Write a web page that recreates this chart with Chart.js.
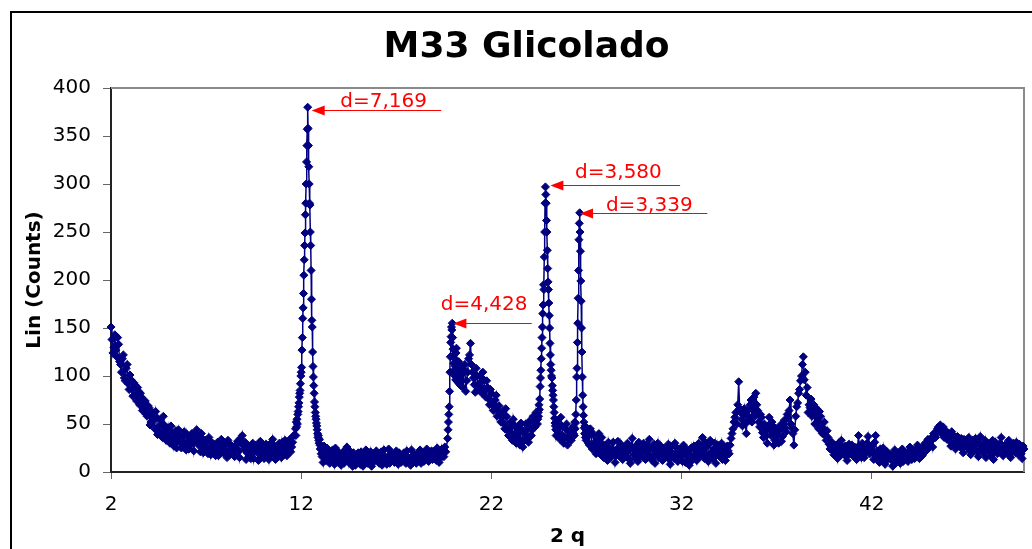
<!DOCTYPE html>
<html>
<head>
<meta charset="utf-8">
<title>M33 Glicolado</title>
<script src="https://cdn.jsdelivr.net/npm/chart.js@4.4.1/dist/chart.umd.min.js"></script>
<style>
  html, body { margin: 0; padding: 0; background: #fff; }
  #wrap { width: 1032px; height: 549px; }
</style>
</head>
<body>
<div id="wrap"><canvas id="xrd" width="1032" height="549"></canvas></div>
<script>
// Diffractogram counts, split into scan segments (2θ start, step)
// 2.0 – 11.6, step 0.1
const countsLow = [
  151, 124, 143, 120, 133, 112, 118, 98, 108, 92,
  101, 86, 93, 80, 88, 70, 78, 66, 74, 58,
  67, 52, 62, 45, 57, 42, 54, 36, 49, 33,
  46, 30, 41, 27, 43, 32, 38, 25, 37, 28,
  39, 24, 35, 30, 33, 44, 28, 21, 35, 26,
  31, 19, 32, 24, 29, 17, 31, 22, 34, 20,
  28, 15, 30, 23, 26, 16, 29, 21, 35, 38,
  24, 13, 27, 19, 26, 14, 28, 20, 25, 15,
  27, 18, 24, 13, 30, 34, 22, 16, 28, 20,
  31, 19, 27, 22, 34, 26, 38
];
// 2.05 – 11.55, step 0.1
const countsLowHalf = [
  138, 130, 127, 140, 115, 104, 122, 95, 112, 86,
  96, 79, 91, 74, 84, 82, 64, 72, 60, 69,
  49, 60, 55, 63, 39, 48, 40, 58, 43, 38,
  36, 48, 34, 38, 25, 44, 31, 30, 42, 23,
  32, 28, 40, 22, 37, 36, 31, 40, 20, 33,
  25, 36, 18, 30, 22, 27, 17, 29, 26, 31,
  22, 33, 18, 27, 20, 25, 32, 15, 30, 28,
  31, 20, 24, 14, 30, 21, 24, 12, 32, 22,
  14, 29, 20, 25, 18, 28, 13, 25, 30, 15,
  25, 33, 17, 30, 21, 31
];
// 11.70 – 12.98, step 0.02 (d=7,169)
const peak7169 = [
  45, 38, 52, 47, 55, 50, 60, 63, 68, 72,
  78, 82, 85, 92, 100, 104, 109, 127, 140, 160,
  171, 186, 205, 221, 236, 249, 268, 280, 300, 323,
  340, 357, 380, 358, 340, 318, 300, 280, 278, 250,
  236, 210, 180, 158, 151, 125, 110, 99, 90, 82,
  73, 68, 62, 58, 55, 51, 48, 44, 40, 36,
  38, 33, 30, 34, 28
];
// 13.0 – 19.6, step 0.1
const countsMid = [
  24, 16, 27, 12, 22, 9, 20, 14, 25, 11,
  19, 7, 21, 13, 26, 10, 18, 6, 16, 12,
  20, 8, 17, 11, 23, 9, 15, 6, 19, 12,
  17, 9, 21, 13, 16, 8, 24, 12, 18, 10,
  22, 8, 17, 13, 20, 9, 16, 11, 23, 10,
  18, 12, 21, 9, 19, 14, 24, 11, 17, 13,
  22, 12, 19, 14, 24, 16, 21
];
// 13.05 – 19.55, step 0.1
const countsMidHalf = [
  19, 10, 17, 25, 15, 14, 23, 8, 18, 21,
  13, 16, 9, 20, 17, 22, 11, 20, 7, 18,
  13, 21, 6, 15, 18, 12, 21, 10, 14, 22,
  11, 19, 7, 23, 14, 16, 9, 20, 14, 19,
  14, 20, 10, 16, 13, 22, 13, 7, 17, 15,
  9, 16, 23, 14, 11, 20, 16, 13, 22, 17,
  15, 25, 10, 18, 20, 26
];
// 19.70 – 20.38, step 0.02 (d=4,428)
const peak4428 = [
  35, 44, 52, 60, 68, 84, 104, 120, 135, 141,
  151, 148, 155, 140, 128, 121, 113, 106, 118, 100,
  110, 96, 124, 129, 103, 112, 94, 108, 98, 115,
  92, 105, 99, 111, 90
];
// 20.4 – 24.3, step 0.1
const countsBand = [
  101, 88, 112, 95, 118, 134, 104, 91, 108, 86,
  100, 82, 96, 78, 88, 70, 82, 64, 75, 58,
  69, 52, 63, 45, 58, 38, 52, 33, 49, 30,
  46, 28, 44, 32, 50, 35, 53, 38, 58, 47
];
// 20.45 – 24.35, step 0.1
const countsBandHalf = [
  95, 107, 84, 104, 122, 112, 98, 83, 100, 92,
  89, 104, 85, 95, 76, 86, 72, 68, 80, 63,
  60, 57, 50, 66, 43, 46, 40, 55, 36, 42,
  35, 51, 26, 40, 44, 31, 47, 44, 52, 62
];
// 24.40 – 25.38, step 0.02 (d=3,580)
const peak3580 = [
  55, 50, 55, 62, 58, 70, 65, 76, 89, 98,
  106, 118, 129, 140, 151, 165, 174, 195, 190, 224,
  250, 280, 297, 289, 280, 262, 250, 231, 212, 198,
  190, 176, 163, 150, 134, 122, 112, 106, 100, 98,
  90, 85, 80, 75, 68, 62, 56, 51, 48, 44
];
// 25.4 – 26.3, step 0.1
const countsGap = [38, 52, 34, 48, 30, 45, 28, 42, 33, 47];
// 25.45 – 26.25, step 0.1
const countsGapHalf = [45, 41, 57, 38, 36, 50, 35, 39, 44];
// 26.32 – 27.00, step 0.02 (d=3,339)
const peak3339 = [
  40, 46, 38, 52, 45, 51, 60, 75, 99, 108,
  135, 155, 181, 210, 242, 259, 270, 250, 230, 199,
  178, 150, 125, 99, 80, 68, 59, 52, 46, 40,
  48, 36, 44, 33, 39
];
// 27.1 – 50.0, step 0.1
const countsHigh = [
  30, 45, 24, 38, 19, 33, 22, 36, 15,
  28, 12, 25, 19, 31, 10, 24, 17, 29, 13,
  26, 16, 22, 9, 35, 18, 27, 11, 24, 20,
  30, 13, 21, 34, 16, 25, 9, 23, 15, 27,
  12, 22, 18, 29, 8, 20, 14, 26, 11, 24,
  17, 28, 10, 21, 7, 25, 15, 23, 12, 30,
  18, 36, 14, 26, 11, 33, 19, 24, 9, 28,
  16, 30, 21, 12, 27, 19, 35, 45, 57, 50,
  94, 62, 48, 66, 40, 58, 70, 52, 78, 82,
  64, 47, 57, 36, 44, 30, 57, 38, 48, 33,
  45, 30, 49, 37, 54, 42, 56, 75, 46, 28,
  58, 72, 86, 100, 120, 104, 88, 70, 76, 64,
  50, 66, 45, 58, 40, 52, 33, 36, 24, 31,
  18, 28, 14, 25, 33, 20, 27, 12, 29, 22,
  17, 26, 13, 38, 21, 30, 15, 24, 37, 19,
  27, 13, 38, 22, 10, 19, 25, 8, 21, 14,
  18, 6, 23, 12, 20, 9, 24, 15, 19, 11,
  26, 13, 22, 16, 28, 14, 21, 19, 30, 23,
  30, 35, 26, 38, 42, 47, 49, 45, 36, 43,
  40, 32, 42, 38, 24, 37, 29, 35, 20, 31,
  26, 36, 18, 33, 22, 30, 16, 37, 24, 28,
  15, 30, 21, 26, 13, 31, 19, 25, 36, 17,
  28, 20, 33, 15, 27, 22, 31, 18, 26, 14,
  24
];
// 27.05 – 49.95, step 0.1
const countsHighHalf = [
  37, 28, 42, 27, 31, 26, 40, 18, 29, 24,
  20, 31, 15, 24, 22, 17, 32, 21, 18, 26,
  20, 30, 13, 27, 24, 14, 21, 31, 16, 25,
  22, 28, 17, 24, 12, 29, 19, 30, 20, 14,
  25, 16, 23, 13, 26, 18, 30, 15, 21, 19,
  11, 20, 24, 15, 18, 12, 27, 19, 23, 16,
  25, 22, 31, 17, 29, 20, 14, 30, 21, 18,
  24, 13, 26, 17, 22, 28, 40, 52, 62, 70,
  66, 55, 60, 50, 64, 54, 75, 65, 58, 70,
  52, 60, 41, 50, 38, 48, 44, 52, 28, 40,
  38, 44, 32, 50, 46, 60, 64, 50, 40, 44,
  68, 82, 95, 112, 96, 80, 62, 67, 58, 70,
  58, 52, 63, 47, 45, 38, 43, 29, 27, 22,
  24, 20, 30, 17, 26, 23, 16, 24, 19, 28,
  21, 18, 26, 24, 15, 27, 20, 30, 26, 22,
  20, 31, 16, 18, 24, 14, 17, 13, 20, 18,
  12, 17, 9, 15, 16, 21, 11, 20, 14, 22,
  18, 21, 14, 24, 19, 25, 17, 27, 22, 34,
  27, 33, 40, 36, 45, 44, 40, 47, 39, 34,
  37, 27, 38, 31, 35, 27, 33, 24, 34, 28,
  31, 22, 28, 26, 35, 21, 30, 27, 20, 33,
  23, 27, 17, 33, 24, 22, 28, 30, 23, 27,
  24, 29, 18, 25, 30, 20, 24, 29, 19, 27
];

const scanSegments = [
  { start: 2.0, step: 0.1, counts: countsLow },
  { start: 2.05, step: 0.1, counts: countsLowHalf },
  { start: 11.7, step: 0.02, counts: peak7169 },
  { start: 13.0, step: 0.1, counts: countsMid },
  { start: 13.05, step: 0.1, counts: countsMidHalf },
  { start: 19.7, step: 0.02, counts: peak4428 },
  { start: 20.4, step: 0.1, counts: countsBand },
  { start: 20.45, step: 0.1, counts: countsBandHalf },
  { start: 24.4, step: 0.02, counts: peak3580 },
  { start: 25.4, step: 0.1, counts: countsGap },
  { start: 25.45, step: 0.1, counts: countsGapHalf },
  { start: 26.32, step: 0.02, counts: peak3339 },
  { start: 27.1, step: 0.1, counts: countsHigh },
  { start: 27.05, step: 0.1, counts: countsHighHalf }
];

const xTicks = [2, 12, 22, 32, 42];

// d-spacing callouts: arrow tip (2θ, counts), tail end (2θ), text anchor (2θ, counts)
const peakLabels = ['d=7,169', 'd=4,428', 'd=3,580', 'd=3,339'];
const arrowTips = [[12.55, 377], [20.0, 155.5], [25.1, 299], [26.66, 270]];
const arrowTails = [19.36, 24.12, 31.92, 33.35];
const labelAnchors = [[14.05, 380], [19.34, 168.7], [26.4, 306], [28.02, 272]];

const points = [];
scanSegments.forEach(seg => {
  seg.counts.forEach((c, i) => {
    points.push({ x: +(seg.start + i * seg.step).toFixed(2), y: c });
  });
});
points.sort((a, b) => a.x - b.x);

const navy = '#000080';
const font = '"DejaVu Sans", "Liberation Sans", sans-serif';

const decorations = {
  id: 'decorations',
  beforeDraw(chart) {
    const ctx = chart.ctx;
    ctx.save();
    ctx.fillStyle = '#fff';
    ctx.fillRect(0, 0, chart.width, chart.height);
    // outer chart frame
    ctx.strokeStyle = '#000';
    ctx.lineWidth = 2;
    ctx.strokeRect(11, 12, 1100, 700);
    ctx.restore();
  },
  beforeDatasetsDraw(chart) {
    const { ctx, chartArea: a } = chart;
    ctx.save();
    ctx.strokeStyle = '#8a8a8a';
    ctx.lineWidth = 2;
    ctx.beginPath();
    ctx.moveTo(a.left, a.top);
    ctx.lineTo(a.right, a.top);
    ctx.lineTo(a.right, a.bottom);
    ctx.stroke();
    ctx.restore();
  },
  afterDraw(chart) {
    const { ctx, scales: { x, y }, chartArea: a } = chart;
    ctx.save();
    ctx.fillStyle = '#000';

    ctx.font = 'bold 36px ' + font;
    ctx.textAlign = 'center';
    ctx.textBaseline = 'alphabetic';
    ctx.fillText('M33 Glicolado', 526.5, 57);

    ctx.font = 'bold 20px ' + font;
    ctx.fillText('2 q', (a.left + a.right) / 2, 542);

    ctx.save();
    ctx.translate(40, (a.top + a.bottom) / 2);
    ctx.rotate(-Math.PI / 2);
    ctx.fillText('Lin (Counts)', 0, 0);
    ctx.restore();

    // d-spacing arrows
    ctx.fillStyle = '#ff0000';
    ctx.strokeStyle = '#ff0000';
    ctx.lineWidth = 1;
    ctx.font = '20px ' + font;
    ctx.textAlign = 'left';
    peakLabels.forEach((label, i) => {
      const tx = x.getPixelForValue(arrowTips[i][0]);
      const ty = Math.round(y.getPixelForValue(arrowTips[i][1])) + 0.5;
      const ex = x.getPixelForValue(arrowTails[i]);
      ctx.beginPath();
      ctx.moveTo(tx + 12, ty);
      ctx.lineTo(ex, ty);
      ctx.stroke();
      ctx.beginPath();
      ctx.moveTo(tx, ty);
      ctx.lineTo(tx + 13, ty - 5);
      ctx.lineTo(tx + 13, ty + 5);
      ctx.closePath();
      ctx.fill();
      ctx.fillText(label, x.getPixelForValue(labelAnchors[i][0]), y.getPixelForValue(labelAnchors[i][1]));
    });
    ctx.restore();
  }
};

new Chart(document.getElementById('xrd'), {
  type: 'line',
  data: {
    datasets: [{
      data: points,
      borderColor: navy,
      borderWidth: 1.5,
      tension: 0,
      pointStyle: 'rectRot',
      pointRadius: 4,
      pointBorderWidth: 1,
      pointBackgroundColor: navy,
      pointBorderColor: navy,
      clip: false
    }]
  },
  options: {
    responsive: false,
    animation: false,
    events: [],
    layout: { padding: { top: 88, right: 8, left: 0, bottom: 0 } },
    plugins: {
      legend: { display: false },
      tooltip: { enabled: false }
    },
    scales: {
      x: {
        type: 'linear',
        min: 2,
        max: 50,
        afterBuildTicks: s => { s.ticks = xTicks.map(v => ({ value: v })); },
        afterFit: s => { s.height = 77; },
        grid: { drawOnChartArea: false, tickLength: 7, tickColor: '#666' },
        border: { color: '#222', width: 2 },
        ticks: { color: '#000', font: { family: font, size: 20 }, padding: 14, maxRotation: 0 }
      },
      y: {
        min: 0,
        max: 400,
        afterFit: s => { s.width = 111; },
        grid: { drawOnChartArea: false, tickLength: 8, tickColor: '#666' },
        border: { color: '#222', width: 2 },
        ticks: { stepSize: 50, color: '#000', font: { family: font, size: 20 }, padding: 12 }
      }
    }
  },
  plugins: [decorations]
});
</script>
</body>
</html>
